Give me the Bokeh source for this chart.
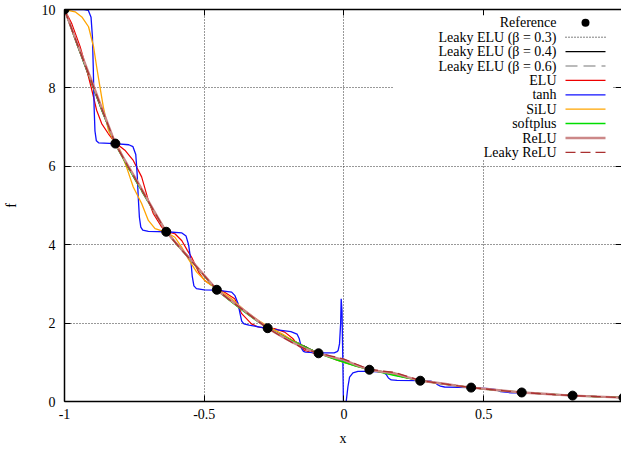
from bokeh.plotting import figure
from bokeh.models import (Range1d, FixedTicker, BoxAnnotation, Label, Arrow, Span, LinearAxis,
                          CustomLabelingPolicy)
from bokeh.embed import file_html
from bokeh.resources import INLINE

# ---------------- data ----------------
X_REF = [-1.0, -0.818, -0.636, -0.455, -0.273, -0.091, 0.091, 0.273, 0.455, 0.636, 0.818, 1.0]
F_REF = [10.0, 6.58, 4.33, 2.85, 1.87, 1.23, 0.81, 0.53, 0.355, 0.23, 0.15, 0.10]

XS = [-1.0, -0.955, -0.909, -0.864, -0.818, -0.773, -0.727, -0.682, -0.636, -0.591,
      -0.545, -0.5, -0.455, -0.409, -0.364, -0.318, -0.273, -0.227, -0.182, -0.136,
      -0.091, -0.045, 0.0, 0.045, 0.091, 0.136, 0.182, 0.227, 0.273, 0.318,
      0.364, 0.409, 0.455, 0.5, 0.545, 0.591, 0.636, 0.682, 0.727, 0.773,
      0.818, 0.864, 0.909, 0.955, 1.0]

LELU03 = [10.0, 9.15, 8.3, 7.44, 6.58, 6.0, 5.45, 4.9, 4.33, 3.96, 3.6, 3.22, 2.85, 2.6, 2.36,
          2.12, 1.87, 1.72, 1.56, 1.40, 1.23, 1.12, 1.03, 0.92, 0.81, 0.75, 0.68, 0.6, 0.53,
          0.49, 0.44, 0.40, 0.355, 0.325, 0.295, 0.26, 0.23, 0.21, 0.19, 0.17, 0.15, 0.137,
          0.125, 0.112, 0.10]
LELU04 = [10.0, 9.1, 8.22, 7.38, 6.57, 5.99, 5.43, 4.88, 4.33, 3.97, 3.6, 3.21, 2.85, 2.58,
          2.34, 2.1, 1.87, 1.71, 1.55, 1.39, 1.23, 1.13, 1.04, 0.93, 0.82, 0.76, 0.69, 0.61,
          0.535, 0.49, 0.445, 0.4, 0.355, 0.325, 0.29, 0.26, 0.232, 0.21, 0.19, 0.17, 0.15,
          0.137, 0.124, 0.112, 0.10]
LELU06 = [10.0, 9.13, 8.27, 7.42, 6.58, 5.97, 5.4, 4.86, 4.33, 3.94, 3.57, 3.2, 2.85, 2.59,
          2.35, 2.11, 1.87, 1.7, 1.54, 1.38, 1.23, 1.12, 1.02, 0.92, 0.81, 0.75, 0.68, 0.6,
          0.53, 0.485, 0.44, 0.395, 0.355, 0.32, 0.29, 0.26, 0.232, 0.21, 0.19, 0.17, 0.15,
          0.137, 0.124, 0.112, 0.10]
SOFTPLUS = [10.0, 9.12, 8.25, 7.4, 6.56, 5.98, 5.42, 4.87, 4.33, 3.95, 3.58, 3.2, 2.84, 2.58,
            2.33, 2.09, 1.87, 1.70, 1.53, 1.37, 1.23, 1.11, 1.0, 0.9, 0.815, 0.74, 0.665, 0.6,
            0.535, 0.485, 0.44, 0.395, 0.355, 0.32, 0.29, 0.26, 0.235, 0.21, 0.19, 0.17, 0.152,
            0.137, 0.124, 0.112, 0.10]
RELU = [10.0, 9.15, 8.29, 7.44, 6.58, 6.02, 5.46, 4.89, 4.33, 3.96, 3.59, 3.22, 2.85, 2.60,
        2.36, 2.11, 1.87, 1.68, 1.50, 1.34, 1.23, 1.14, 1.06, 0.93, 0.81, 0.76, 0.72, 0.62,
        0.53, 0.49, 0.445, 0.40, 0.355, 0.325, 0.295, 0.26, 0.23, 0.21, 0.19, 0.17, 0.15,
        0.137, 0.125, 0.112, 0.10]
LRELU = [10.0, 9.13, 8.27, 7.42, 6.57, 6.0, 5.44, 4.88, 4.33, 3.95, 3.58, 3.21, 2.85, 2.59,
         2.35, 2.1, 1.87, 1.67, 1.49, 1.33, 1.24, 1.16, 1.08, 0.95, 0.82, 0.78, 0.74, 0.64,
         0.54, 0.49, 0.445, 0.40, 0.355, 0.325, 0.292, 0.26, 0.232, 0.21, 0.19, 0.17, 0.15,
         0.137, 0.125, 0.112, 0.10]

ELU_X = [-1.0, -0.974, -0.944, -0.92, -0.902, -0.885, -0.867, -0.843, -0.818, -0.784, -0.754,
         -0.724, -0.70, -0.682, -0.652, -0.636, -0.605, -0.58, -0.56, -0.545, -0.52, -0.5,
         -0.475, -0.455, -0.427, -0.391, -0.366, -0.331, -0.307, -0.273, -0.248, -0.212,
         -0.182, -0.164, -0.141, -0.111, -0.06, -0.03, 0.0, 0.045, 0.091, 0.136, 0.182, 0.227,
         0.273, 0.318, 0.364, 0.409, 0.455, 0.545, 0.636, 0.727, 0.818, 0.909, 1.0]
ELU_Y = [10.0, 9.64, 9.05, 8.45, 7.94, 7.43, 7.09, 6.83, 6.6, 6.41, 6.15, 5.73, 5.13, 4.79,
         4.45, 4.33, 4.28, 4.1, 3.85, 3.68, 3.3, 3.1, 2.97, 2.88, 2.79, 2.62, 2.24, 1.98,
         1.90, 1.87, 1.86, 1.77, 1.60, 1.43, 1.30, 1.24, 1.16, 1.07, 1.0, 0.9, 0.81, 0.75, 0.68,
         0.6, 0.53, 0.48, 0.44, 0.39, 0.355, 0.29, 0.232, 0.19, 0.15, 0.123, 0.10]

SILU_X = [-1.0, -0.962, -0.938, -0.914, -0.896, -0.885, -0.873, -0.861, -0.843, -0.825, -0.801,
          -0.778, -0.754, -0.724, -0.70, -0.676, -0.638, -0.605, -0.581, -0.557, -0.527, -0.492,
          -0.456, -0.402, -0.355, -0.307, -0.271, -0.22, -0.182, -0.129, -0.091, -0.045, 0.0,
          0.045, 0.091, 0.182, 0.273, 0.364, 0.455, 0.545, 0.636, 0.727, 0.818, 0.909, 1.0]
SILU_Y = [10.0, 9.94, 9.81, 9.56, 9.05, 8.54, 8.02, 7.51, 6.92, 6.66, 6.41, 5.98, 5.47, 5.05,
          4.62, 4.41, 4.32, 4.19, 3.94, 3.64, 3.30, 3.05, 2.88, 2.62, 2.32, 2.07, 1.91, 1.72,
          1.55, 1.35, 1.24, 1.11, 1.0, 0.9, 0.82, 0.67, 0.54, 0.44, 0.355, 0.288, 0.232, 0.19,
          0.15, 0.123, 0.10]

TANH_X = [-1.0, -0.93, -0.915, -0.905, -0.9, -0.897, -0.894, -0.891, -0.886, -0.878, -0.82,
          -0.77, -0.755, -0.745, -0.74, -0.736, -0.732, -0.727, -0.72, -0.7, -0.636, -0.58,
          -0.565, -0.556, -0.548, -0.543, -0.537, -0.528, -0.5, -0.455, -0.402, -0.39, -0.379,
          -0.372, -0.366, -0.358, -0.34, -0.273, -0.19, -0.168, -0.16, -0.155, -0.15, -0.145,
          -0.138, -0.091, -0.035, -0.025, -0.021, -0.016, -0.012, -0.01, -0.007, -0.004, -0.002,
          -0.001, 0.003, 0.008, 0.014, 0.02, 0.032, 0.05, 0.091, 0.139, 0.151, 0.159, 0.169,
          0.19, 0.273, 0.31, 0.325, 0.335, 0.345, 0.36, 0.455, 0.52, 0.545, 0.56, 0.6, 0.636,
          0.727, 0.818, 0.909, 1.0]
TANH_Y = [10.0, 10.0, 9.98, 9.8, 9.3, 8.5, 7.5, 6.9, 6.65, 6.6, 6.58, 6.55, 6.5, 6.3, 5.8, 5.2,
          4.7, 4.45, 4.37, 4.34, 4.33, 4.3, 4.22, 4.0, 3.6, 3.2, 2.95, 2.88, 2.85, 2.84, 2.79,
          2.7, 2.5, 2.25, 2.05, 1.98, 1.95, 1.86, 1.78, 1.72, 1.6, 1.45, 1.33, 1.28, 1.26, 1.24,
          1.24, 1.27, 1.30, 1.47, 1.98, 2.62, 2.3, 1.0, 0.0, -0.5, -0.5, 0.0, 0.37, 0.62, 0.73,
          0.77, 0.77, 0.75, 0.69, 0.6, 0.55, 0.54, 0.53, 0.52, 0.49, 0.43, 0.39, 0.37, 0.355,
          0.33, 0.3, 0.25, 0.22, 0.228, 0.19, 0.15, 0.123, 0.10]

X_TICKS = [-1, -0.5, 0, 0.5, 1]
X_TICK_LABELS = ["-1", "-0.5", "0", "0.5", "1"]
Y_TICKS = [0, 2, 4, 6, 8, 10]
Y_MAX = 10

LEGEND_LABELS = ["Reference", "Leaky ELU (\u03b2 = 0.3)", "Leaky ELU (\u03b2 = 0.4)",
                 "Leaky ELU (\u03b2 = 0.6)", "ELU", "tanh", "SiLU", "softplus", "ReLU",
                 "Leaky ReLU"]

# ---------------- styles ----------------
FONT = "Liberation Serif"
FS = "14px"
STYLES = [
    None,
    dict(line_color="black", line_width=1.0, line_dash="1 2"),
    dict(line_color="black", line_width=1.2),
    dict(line_color="#777777", line_width=1.2, line_dash="12 6"),
    dict(line_color="#ee0000", line_width=1.2),
    dict(line_color="#1010ff", line_width=1.3),
    dict(line_color="#ffa500", line_width=1.3),
    dict(line_color="#00dd00", line_width=1.5),
    dict(line_color="#cc8888", line_width=2.4),
    dict(line_color="#aa3030", line_width=1.3, line_dash="10 5"),
]

p = figure(width=621, height=451, x_range=Range1d(-1, 0.993), y_range=Range1d(0, Y_MAX),
           output_backend="svg", toolbar_location=None,
           min_border_left=63, min_border_right=0, min_border_top=9, min_border_bottom=50)
p.outline_line_color = None
p.background_fill_color = "white"
p.border_fill_color = "white"

# axes
for ax in (p.xaxis[0], p.yaxis[0]):
    ax.axis_line_width = 1.5
    ax.axis_line_color = "black"
    ax.major_tick_in = 6
    ax.major_tick_out = 0
    ax.major_tick_line_color = "black"
    ax.minor_tick_line_color = None
    ax.major_label_text_font = FONT
    ax.major_label_text_font_size = FS
    ax.major_label_text_color = "black"
    ax.axis_label_text_font = FONT
    ax.axis_label_text_font_size = FS
    ax.axis_label_text_font_style = "normal"
    ax.axis_label_text_color = "black"

p.xaxis.ticker = FixedTicker(ticks=X_TICKS)
p.xaxis.major_label_overrides = dict(zip(X_TICKS, X_TICK_LABELS))
p.xaxis.major_label_standoff = 7
p.xaxis.axis_label = "x"
p.xaxis.axis_label_standoff = 9
p.yaxis.ticker = FixedTicker(ticks=Y_TICKS)
p.yaxis.major_label_standoff = 9
p.yaxis.axis_label = "f"
p.yaxis.axis_label_standoff = 20

# mirrored tick marks (top and right), no labels
HIDE = "for (let i = 0; i < indices.size; i++) { indices.unset(i) } return indices"
top = LinearAxis(ticker=FixedTicker(ticks=X_TICKS), major_tick_in=6, major_tick_out=0,
                 minor_tick_line_color=None, axis_line_color="black", axis_line_width=1.5,
                 major_label_text_font_size="0px", major_label_standoff=0,
                 major_label_policy=CustomLabelingPolicy(code=HIDE))
p.add_layout(top, "above")
right = LinearAxis(ticker=FixedTicker(ticks=Y_TICKS), major_tick_in=6, major_tick_out=0,
                   minor_tick_line_color=None, axis_line_color=None,
                   major_label_text_font_size="0px", major_label_standoff=0,
                   major_label_policy=CustomLabelingPolicy(code=HIDE))
p.add_layout(right, "right")

# grid
p.xgrid.ticker = FixedTicker(ticks=[-0.5, 0, 0.5])
p.ygrid.ticker = FixedTicker(ticks=[2, 4, 6, 8])
for g in (p.xgrid[0], p.ygrid[0]):
    g.grid_line_color = "#333333"
    g.grid_line_dash = "1 2"
    g.grid_line_width = 1

# curves
p.line(XS, LELU03, **STYLES[1])
p.line(XS, LELU04, **STYLES[2])
p.line(XS, LELU06, **STYLES[3])
p.line(ELU_X, ELU_Y, **STYLES[4])
p.line(TANH_X, TANH_Y, **STYLES[5])
p.line(SILU_X, SILU_Y, **STYLES[6])
p.line(XS, SOFTPLUS, **STYLES[7])
p.line(XS, RELU, **STYLES[8])
p.line(XS, LRELU, **STYLES[9])
p.scatter(X_REF, F_REF, size=9, color="black")

# legend (drawn by hand: text on the left, sample on the right)
p.add_layout(BoxAnnotation(left=393, right=612, top=15, bottom=159,
                           left_units="canvas", right_units="canvas",
                           top_units="canvas", bottom_units="canvas",
                           fill_color="white", fill_alpha=1.0, line_color=None,
                           level="overlay"))
ROW0, DY = 22.3, 14.4
TXT_R, S0, S1 = 556, 565, 605
for i, lab in enumerate(LEGEND_LABELS):
    yy = ROW0 + DY * i
    p.add_layout(Label(x=TXT_R, y=yy, x_units="canvas", y_units="canvas", text=lab,
                       text_font=FONT, text_font_size=FS, text_align="right",
                       text_baseline="middle", text_color="black", level="overlay"))
    if i == 0:
        p.add_layout(BoxAnnotation(left=(S0 + S1) / 2 - 4, right=(S0 + S1) / 2 + 4,
                                   top=yy - 4, bottom=yy + 4,
                                   left_units="canvas", right_units="canvas",
                                   top_units="canvas", bottom_units="canvas",
                                   fill_color="black", fill_alpha=1.0, line_color=None,
                                   border_radius=4, level="overlay"))
    else:
        p.add_layout(Arrow(x_start=S0, y_start=yy, x_end=S1, y_end=yy,
                           start_units="canvas", end_units="canvas", end=None,
                           level="overlay", **STYLES[i]))

open("out.html", "w").write(file_html(p, INLINE))
